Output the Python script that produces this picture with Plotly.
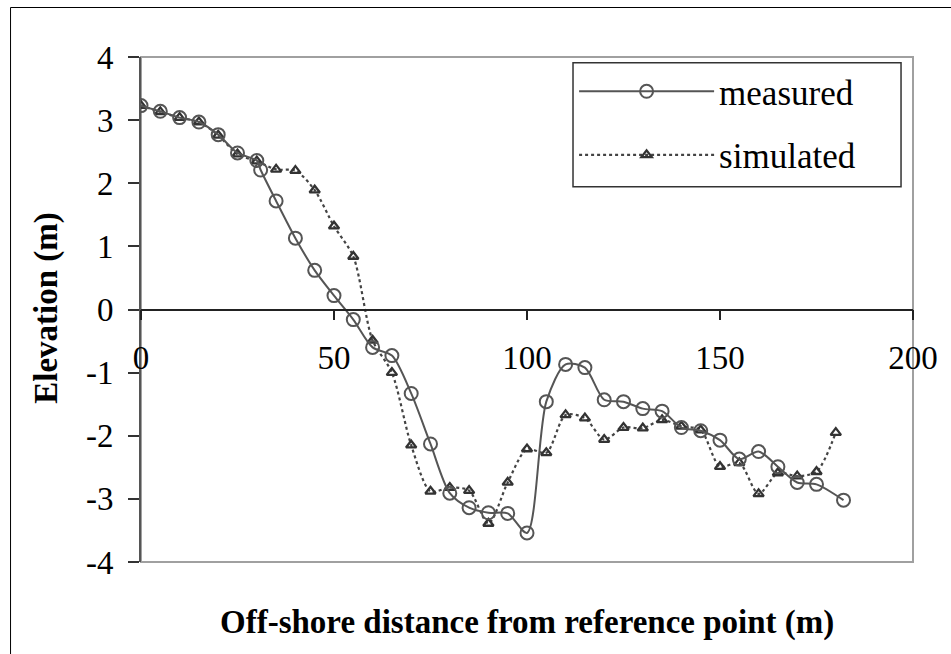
import plotly.graph_objects as go

# ---- data ----
measured_x = [0, 5, 10, 15, 20, 25, 30, 31, 35, 40, 45, 50, 55, 60, 65, 70, 75, 80, 85, 90,
              95, 100, 105, 110, 115, 120, 125, 130, 135, 140, 145, 150, 155, 160, 165, 170, 175, 182]
measured_y = [3.23, 3.14, 3.04, 2.97, 2.77, 2.48, 2.36, 2.21, 1.72, 1.13, 0.62, 0.22, -0.16, -0.60,
              -0.73, -1.33, -2.13, -2.91, -3.14, -3.22, -3.23, -3.54, -1.46, -0.87, -0.92, -1.43,
              -1.46, -1.57, -1.61, -1.87, -1.92, -2.07, -2.37, -2.25, -2.49, -2.74, -2.77, -3.02]

simulated_x = [0, 5, 10, 15, 20, 25, 30, 35, 40, 45, 50, 55, 60, 65, 70, 75, 80, 85, 90, 95,
               100, 105, 110, 115, 120, 125, 130, 135, 140, 145, 150, 155, 160, 165, 170, 175, 180]
simulated_y = [3.23, 3.13, 3.04, 2.97, 2.76, 2.46, 2.35, 2.22, 2.20, 1.89, 1.32, 0.84, -0.49, -1.00,
               -2.15, -2.88, -2.82, -2.87, -3.39, -2.74, -2.21, -2.27, -1.67, -1.72, -2.06, -1.87,
               -1.88, -1.75, -1.85, -1.91, -2.49, -2.43, -2.92, -2.59, -2.64, -2.57, -1.95]

x_ticks = [0, 50, 100, 150, 200]
y_ticks = [-4, -3, -2, -1, 0, 1, 2, 3, 4]

x_title = "Off-shore distance from reference point (m)"
y_title = "Elevation (m)"
series_names = ["measured", "simulated"]

FONT = "Liberation Serif"

fig = go.Figure()
fig.add_trace(go.Scatter(
    x=simulated_x, y=simulated_y, name=series_names[1], mode="lines+markers",
    legendgroup="b", legendrank=2,
    line=dict(color="#444444", width=2.2, dash="dot", shape="spline", smoothing=0.8),
    marker=dict(symbol="triangle-up-open", size=9, color="#333333", line=dict(width=2.3, color="#333333")),
))
fig.add_trace(go.Scatter(
    x=measured_x, y=measured_y, name=series_names[0], mode="lines+markers",
    legendgroup="a", legendrank=1,
    line=dict(color="#555555", width=2, shape="spline", smoothing=0.8),
    marker=dict(symbol="circle-open", size=13, color="#555555", line=dict(width=2, color="#555555")),
))

shapes = [
    # outer frame of the chart area
    dict(type="rect", xref="paper", yref="paper", x0=-0.169, y0=-0.25, x1=1.08, y1=1.098,
         line=dict(color="#000000", width=1), layer="below"),
    # plot-area border
    dict(type="rect", xref="paper", yref="paper", x0=0, y0=0, x1=1, y1=1,
         line=dict(color="#a0a0a0", width=2), layer="below"),
    # legend box
    dict(type="rect", xref="paper", yref="paper", x0=0.5596, y0=0.7432, x1=0.9845, y1=0.9887,
         line=dict(color="#333333", width=1.5), fillcolor="rgba(0,0,0,0)", layer="above"),
]

annotations = [
    dict(text="<b>" + x_title + "</b>", xref="paper", yref="paper", x=0.5, y=-0.119, showarrow=False,
         xanchor="center", yanchor="middle", font=dict(family=FONT, size=33, color="#000000")),
    dict(text="<b>" + y_title + "</b>", xref="paper", yref="paper", x=-0.122, y=0.503, showarrow=False,
         textangle=-90, xanchor="center", yanchor="middle",
         font=dict(family=FONT, size=33, color="#000000")),
]

fig.update_layout(
    width=951, height=654,
    margin=dict(l=141, r=38, t=57, b=92),
    paper_bgcolor="white", plot_bgcolor="white",
    font=dict(family=FONT, size=33, color="#000000"),
    showlegend=True,
    legend=dict(x=0.561, y=0.99, xanchor="left", yanchor="top",
                bgcolor="rgba(0,0,0,0)", borderwidth=0,
                font=dict(family=FONT, size=35, color="#000000"),
                itemwidth=135, traceorder="grouped", tracegroupgap=15),
    shapes=shapes,
    annotations=annotations,
    xaxis=dict(range=[0, 200], tickvals=x_ticks, ticktext=[str(v) for v in x_ticks],
               showgrid=False, zeroline=False, showline=True, linecolor="#222222", linewidth=1.5,
               ticks="outside", ticklen=10, tickwidth=1.5, tickcolor="#222222",
               anchor="free", position=0.5, ticklabelstandoff=9,
               tickfont=dict(family=FONT, size=33, color="#000000")),
    yaxis=dict(range=[-4, 4], tickvals=y_ticks, ticktext=[str(v) for v in y_ticks],
               showgrid=False, zeroline=False, showline=True, linecolor="#555555", linewidth=2,
               ticks="outside", ticklen=11, tickwidth=1.5, tickcolor="#333333",
               ticklabelstandoff=8,
               tickfont=dict(family=FONT, size=33, color="#000000")),
)

fig.write_html("out.html")
